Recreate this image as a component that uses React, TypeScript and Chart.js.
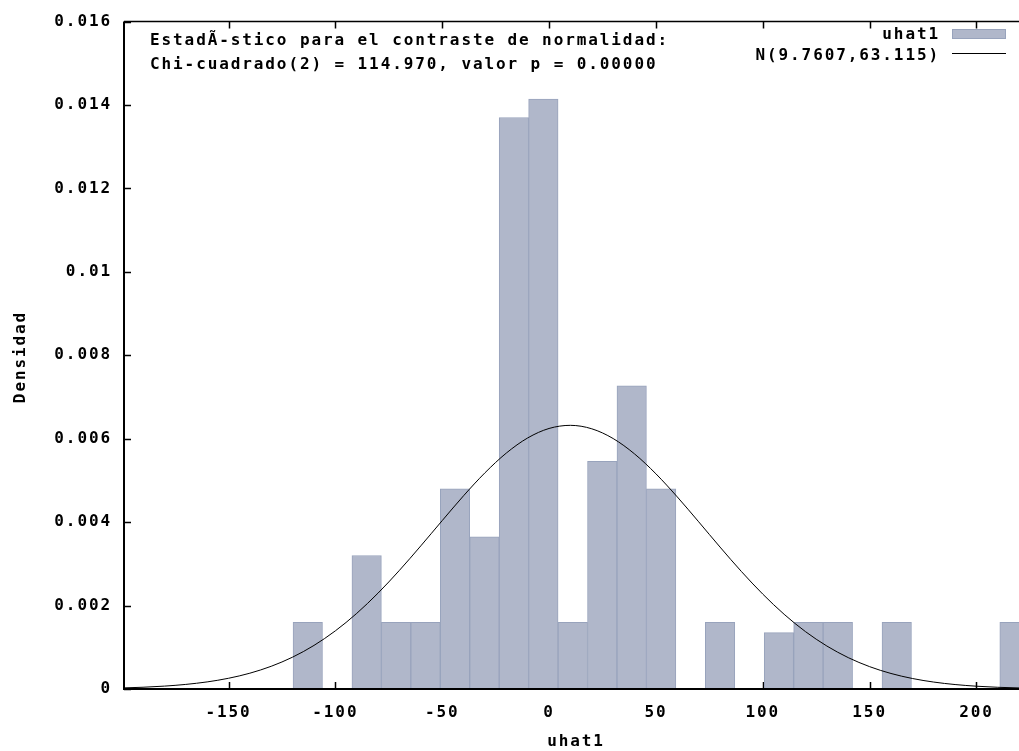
import React, { useEffect, useRef } from "react";
import { Chart, registerables } from "chart.js";

Chart.register(...registerables);

// ---- data ----
const BIN_CENTERS = [
  -112.91, -99.13, -85.35, -71.57, -57.79, -44.01, -30.23, -16.45, -2.67, 11.11,
  24.89, 38.67, 52.45, 66.23, 80.01, 93.79, 107.57, 121.35, 135.13, 148.91,
  162.69, 176.47, 190.25, 204.03, 217.81,
];
const DENSITY: (number | null)[] = [
  0.0016, null, 0.0032, 0.0016, 0.0016, 0.0048, 0.00365, 0.0137, 0.01414, 0.0016,
  0.00546, 0.00727, 0.0048, null, 0.0016, null, 0.00135, 0.0016, 0.0016, null,
  0.0016, null, null, null, 0.0016,
];
const CURVE_X = [
  -200, -190, -180, -170, -160, -150, -140, -130, -120, -110, -100, -90, -80, -70,
  -60, -50, -40, -30, -20, -10, 0, 10, 20, 30, 40, 50, 60, 70, 80, 90, 100, 110,
  120, 130, 140, 150, 160, 170, 180, 190, 200, 210, 220,
];
const CURVE_Y = [
  0.000025, 0.000042, 0.000069, 0.00011, 0.00017, 0.000257, 0.000379, 0.000545,
  0.000764, 0.001045, 0.001394, 0.001813, 0.0023, 0.002845, 0.003432, 0.004037,
  0.004633, 0.005183, 0.005656, 0.006019, 0.006246, 0.006321, 0.006238, 0.006004,
  0.005636, 0.005159, 0.004605, 0.004009, 0.003403, 0.002817, 0.002275, 0.001791,
  0.001375, 0.00103, 0.000752, 0.000536, 0.000372, 0.000252, 0.000166, 0.000107,
  0.000067, 0.000041, 0.000025,
];
const X_TICKS = [-150, -100, -50, 0, 50, 100, 150, 200];
const Y_TICKS = [0, 0.002, 0.004, 0.006, 0.008, 0.01, 0.012, 0.014, 0.016];
const Y_TICK_LABELS = ["0", "0.002", "0.004", "0.006", "0.008", "0.01", "0.012", "0.014", "0.016"];
const STAT_LINES = [
  "EstadÃ-stico para el contraste de normalidad:",
  "Chi-cuadrado(2) = 114.970, valor p = 0.00000",
];
const SERIES_NAMES = ["uhat1", "N(9.7607,63.115)"];
const X_TITLE = "uhat1";
const Y_TITLE = "Densidad";
const X_MIN = -198.9;
const X_MAX = 219.9;
const Y_MIN = 0;
const Y_MAX = 0.016;

// ---- styles ----
const W = 1019;
const H = 751;
const FAMILY = "'DejaVu Sans Mono', monospace";
const FONT = `bold 16px ${FAMILY}`;
const SPACING = "1.9px";
const BAR_FILL = "rgb(176,183,202)";
const BAR_EDGE = "rgb(152,163,188)";

const customPlugin = {
  id: "gnuplotLook",
  beforeUpdate(chart: any) {
    chart.ctx.letterSpacing = SPACING;
  },
  beforeDraw(chart: any) {
    chart.ctx.letterSpacing = SPACING;
  },
  beforeDatasetsDraw(chart: any) {
    const { ctx, chartArea } = chart;
    const xs = chart.scales.x;
    const ys = chart.scales.y;
    ctx.save();
    ctx.strokeStyle = "#000";
    ctx.lineWidth = 1.5;
    ctx.beginPath();
    for (const v of Y_TICKS) {
      const py = Math.round(ys.getPixelForValue(v)) + 0.5;
      ctx.moveTo(chartArea.left, py);
      ctx.lineTo(chartArea.left + 7, py);
    }
    for (const v of X_TICKS) {
      const px = Math.round(xs.getPixelForValue(v)) + 0.5;
      ctx.moveTo(px, chartArea.top);
      ctx.lineTo(px, chartArea.top + 7);
      ctx.moveTo(px, chartArea.bottom);
      ctx.lineTo(px, chartArea.bottom - 7);
    }
    ctx.stroke();
    ctx.restore();
  },
  afterDatasetsDraw(chart: any) {
    const { ctx, chartArea } = chart;
    ctx.save();
    ctx.strokeStyle = "#000";
    ctx.lineWidth = 2;
    ctx.beginPath();
    ctx.moveTo(chartArea.left, chartArea.top);
    ctx.lineTo(chartArea.left, chartArea.bottom);
    ctx.lineTo(chartArea.right, chartArea.bottom);
    ctx.stroke();
    ctx.lineWidth = 1.5;
    ctx.beginPath();
    ctx.moveTo(chartArea.left, chartArea.top);
    ctx.lineTo(chartArea.right, chartArea.top);
    ctx.stroke();
    ctx.restore();
  },
  afterDraw(chart: any) {
    const { ctx } = chart;
    ctx.save();
    ctx.letterSpacing = SPACING;
    ctx.font = FONT;
    ctx.fillStyle = "#000";
    ctx.textBaseline = "middle";
    // statistic text
    ctx.textAlign = "left";
    ctx.fillText(STAT_LINES[0], 150, 41);
    ctx.fillText(STAT_LINES[1], 150, 65);
    // legend
    ctx.textAlign = "right";
    ctx.fillText(SERIES_NAMES[0], 940, 35);
    ctx.fillText(SERIES_NAMES[1], 940, 56);
    ctx.fillStyle = BAR_FILL;
    ctx.fillRect(952, 29, 54, 10);
    ctx.strokeStyle = BAR_EDGE;
    ctx.lineWidth = 1;
    ctx.strokeRect(952.5, 29.5, 53, 9);
    ctx.strokeStyle = "#000";
    ctx.beginPath();
    ctx.moveTo(952, 53.5);
    ctx.lineTo(1006, 53.5);
    ctx.stroke();
    // axis titles
    ctx.fillStyle = "#000";
    ctx.textAlign = "center";
    ctx.fillText(X_TITLE, 576, 742);
    ctx.translate(21, 357);
    ctx.rotate(-Math.PI / 2);
    ctx.fillText(Y_TITLE, 0, 0);
    ctx.restore();
  },
};

export default function App() {
  const canvasRef = useRef<HTMLCanvasElement | null>(null);

  useEffect(() => {
    document.body.style.margin = "0";
    document.body.style.overflow = "hidden";
    const canvas = canvasRef.current;
    if (!canvas) return;

    const barData = BIN_CENTERS.map((x, i) => ({ x, y: DENSITY[i] }));
    const curveData = CURVE_X.map((x, i) => ({ x, y: CURVE_Y[i] }));

    const chart = new Chart(canvas, {
      type: "bar",
      data: {
        datasets: [
          {
            type: "bar",
            label: SERIES_NAMES[0],
            data: barData as any,
            backgroundColor: BAR_FILL,
            borderColor: BAR_EDGE,
            borderWidth: 1,
            borderSkipped: "bottom",
            barPercentage: 1,
            categoryPercentage: 1,
            order: 1,
          } as any,
          {
            type: "line",
            label: SERIES_NAMES[1],
            data: curveData as any,
            borderColor: "#000",
            borderWidth: 1,
            pointRadius: 0,
            cubicInterpolationMode: "monotone",
            fill: false,
            order: 0,
          } as any,
        ],
      },
      options: {
        animation: false,
        responsive: false,
        devicePixelRatio: 1,
        layout: { padding: { top: 18, right: 0, bottom: 0, left: 0 } },
        plugins: {
          legend: { display: false },
          tooltip: { enabled: false },
          title: { display: false },
        },
        scales: {
          x: {
            type: "linear",
            offset: false,
            min: X_MIN,
            max: X_MAX,
            afterBuildTicks: (s: any) => {
              s.ticks = X_TICKS.map((v) => ({ value: v }));
            },
            afterFit: (s: any) => {
              s.height = 62;
            },
            grid: { display: false, drawTicks: false, offset: false },
            border: { display: false },
            ticks: {
              font: { family: FAMILY, size: 16, weight: "bold" },
              color: "#000",
              padding: 14,
              maxRotation: 0,
              autoSkip: false,
              callback: (v: any) => String(v),
            },
          },
          y: {
            type: "linear",
            min: Y_MIN,
            max: Y_MAX,
            afterBuildTicks: (s: any) => {
              s.ticks = Y_TICKS.map((v) => ({ value: v }));
            },
            afterFit: (s: any) => {
              s.width = 124;
            },
            grid: { display: false, drawTicks: false },
            border: { display: false },
            ticks: {
              font: { family: FAMILY, size: 16, weight: "bold" },
              color: "#000",
              padding: 12,
              autoSkip: false,
              callback: (_v: any, i: number) => Y_TICK_LABELS[i],
            },
          },
        },
      } as any,
      plugins: [customPlugin as any],
    });

    return () => chart.destroy();
  }, []);

  return (
    <div style={{ width: W, height: H, background: "#fff" }}>
      <canvas ref={canvasRef} width={W} height={H} style={{ display: "block" }} />
    </div>
  );
}
